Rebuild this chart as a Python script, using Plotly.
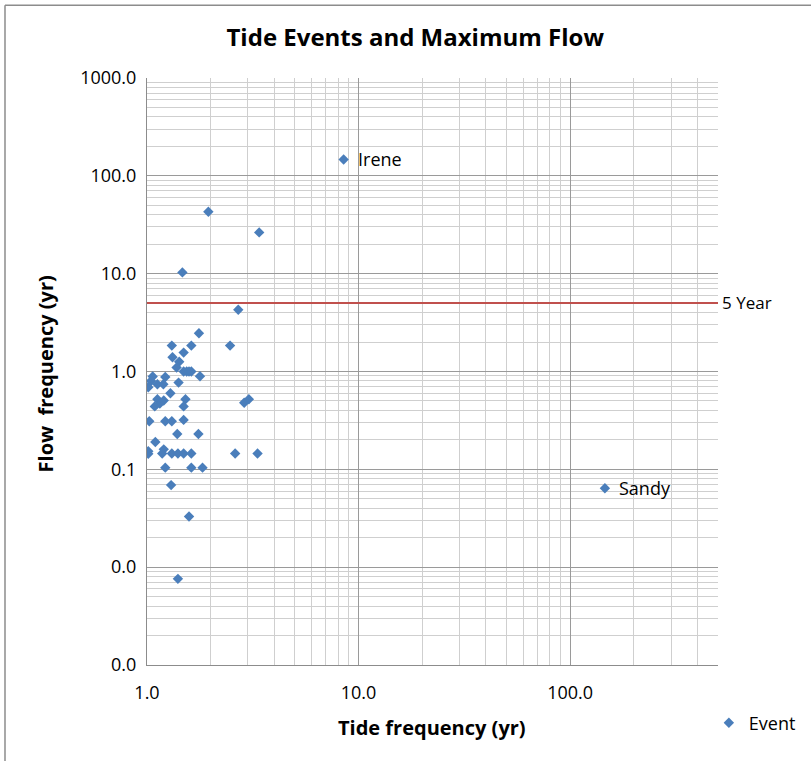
import math
import plotly.graph_objects as go

# Tide return period vs. peak-flow return period for each storm event (years)
tide_freq = [
    8.5, 1.95, 3.39, 1.47, 2.70, 1.76,
    1.31, 1.62, 2.47, 1.49, 1.32, 1.42, 1.38,
    1.49, 1.54, 1.58, 1.62, 1.78, 1.064, 1.22, 1.045, 1.41,
    1.014, 1.12, 1.195, 1.29, 1.12, 1.52, 1.15, 1.20, 1.088, 1.49,
    2.88, 3.03, 1.025, 1.22, 1.31, 1.49, 1.39, 1.75, 1.095,
    1.014, 1.014, 1.20, 1.18, 1.31, 1.40, 1.49, 1.62, 2.61, 3.33,
    1.22, 1.62, 1.83, 1.30, 1.58, 146.0, 1.40,
]
flow_freq = [
    147.0, 43.0, 26.4, 10.3, 4.27, 2.46,
    1.84, 1.84, 1.84, 1.56, 1.40, 1.26, 1.10,
    1.0, 1.0, 1.0, 1.0, 0.895, 0.89, 0.88, 0.80, 0.77,
    0.69, 0.74, 0.74, 0.60, 0.52, 0.52, 0.47, 0.505, 0.44, 0.44,
    0.48, 0.52, 0.31, 0.31, 0.31, 0.32, 0.23, 0.23, 0.19,
    0.153, 0.144, 0.16, 0.145, 0.145, 0.145, 0.145, 0.145, 0.145, 0.145,
    0.104, 0.104, 0.104, 0.069, 0.033, 0.064, 0.0076,
]
event_names = [""] * len(tide_freq)
event_names[0] = "Irene"
event_names[-2] = "Sandy"

threshold_years = 5.0
threshold_label = "5 Year"

x_range = [1.0, 500.0]
y_range = [0.001, 1000.0]

x_tick_vals = [1, 10, 100]
x_tick_text = ["1.0", "10.0", "100.0"]
y_tick_vals = [0.001, 0.01, 0.1, 1, 10, 100, 1000]
y_tick_text = ["0.0", "0.0", "0.1", "1.0", "10.0", "100.0", "1000.0"]

FONT = "Open Sans, Lato, sans-serif"
MARKER_BLUE = "#4A7EBB"
LINE_RED = "#C0504D"
MAJOR_GRID = "#9A9A9A"
MINOR_GRID = "#CFCFCF"


def minor_positions(lo, hi):
    vals = []
    d = math.floor(math.log10(lo))
    while 10 ** d <= hi:
        for m in range(2, 10):
            v = m * 10 ** d
            if lo < v <= hi:
                vals.append(v)
        d += 1
    return vals


fig = go.Figure()

fig.add_trace(go.Scatter(
    x=x_range, y=[threshold_years, threshold_years],
    mode="lines", line=dict(color=LINE_RED, width=2),
    showlegend=False, hoverinfo="skip",
))

fig.add_trace(go.Scatter(
    x=tide_freq, y=flow_freq, mode="markers", name="Event",
    marker=dict(symbol="diamond", size=8, color=MARKER_BLUE),
    text=event_names,
))

annotations = []
for xv, yv, name in zip(tide_freq, flow_freq, event_names):
    if name:
        annotations.append(dict(
            x=math.log10(xv), y=math.log10(yv), xref="x", yref="y",
            text=name, showarrow=False, xanchor="left", yanchor="middle",
            xshift=12, font=dict(family=FONT, size=18, color="#000000"),
        ))

annotations.append(dict(
    x=1.0, y=math.log10(threshold_years), xref="paper", yref="y",
    text=threshold_label, showarrow=False, xanchor="left", yanchor="middle",
    xshift=2, yshift=1, font=dict(family=FONT, size=17, color="#000000"),
))
annotations.append(dict(
    x=-0.1786, y=0.495, xref="paper", yref="paper", textangle=-90,
    text="<b>Flow\u00a0 frequency (yr)</b>", showarrow=False,
    xanchor="center", yanchor="middle",
    font=dict(family=FONT, size=20, color="#000000"),
))
annotations.append(dict(
    x=0.4991, y=-0.1073, xref="paper", yref="paper",
    text="<b>Tide frequency (yr)</b>", showarrow=False,
    xanchor="center", yanchor="middle",
    font=dict(family=FONT, size=20, color="#000000"),
))

axis_common = dict(
    type="log", showgrid=True, gridcolor=MAJOR_GRID, gridwidth=1,
    showline=True, linecolor="#8C8C8C", linewidth=1, mirror=False,
    ticks="", zeroline=False,
    tickfont=dict(family=FONT, size=18, color="#000000"),
)

fig.update_layout(
    width=811, height=761,
    margin=dict(l=147, r=93, t=78, b=96, autoexpand=False),
    paper_bgcolor="white", plot_bgcolor="white",
    title=dict(
        text="<b>Tide Events and Maximum Flow</b>",
        x=0.512, xref="container", xanchor="center",
        y=1 - 38 / 761, yref="container", yanchor="middle",
        font=dict(family=FONT, size=24, color="#000000"),
    ),
    xaxis=dict(
        **axis_common,
        range=[math.log10(x_range[0]), math.log10(x_range[1])],
        tickmode="array", tickvals=x_tick_vals, ticktext=x_tick_text,
        ticklabelstandoff=11,
        minor=dict(tickmode="array", tickvals=minor_positions(*x_range),
                   showgrid=True, gridcolor=MINOR_GRID, gridwidth=1, ticks=""),
    ),
    yaxis=dict(
        **axis_common,
        range=[math.log10(y_range[0]), math.log10(y_range[1])],
        tickmode="array", tickvals=y_tick_vals, ticktext=y_tick_text,
        ticklabelstandoff=6,
        minor=dict(tickmode="array", tickvals=minor_positions(*y_range),
                   showgrid=True, gridcolor=MINOR_GRID, gridwidth=1, ticks=""),
    ),
    showlegend=True,
    legend=dict(
        x=0.984, y=-0.099, xref="paper", yref="paper",
        xanchor="left", yanchor="middle",
        font=dict(family=FONT, size=18, color="#000000"),
        itemwidth=30, bgcolor="rgba(0,0,0,0)",
    ),
    annotations=annotations,
    shapes=[
        dict(type="line", xref="paper", yref="paper",
             x0=-0.2487, x1=-0.2487, y0=-0.2, y1=1.124,
             line=dict(color="#8C8C8C", width=1.5)),
        dict(type="line", xref="paper", yref="paper",
             x0=-0.2487, x1=1.2, y0=1.124, y1=1.124,
             line=dict(color="#8C8C8C", width=1.5)),
    ],
)

fig.write_html("out.html")
